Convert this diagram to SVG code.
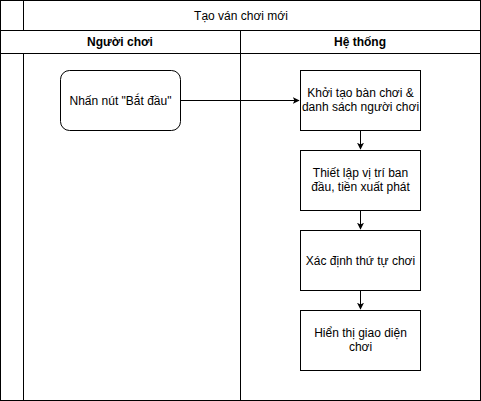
<svg xmlns="http://www.w3.org/2000/svg" width="481" height="401" viewBox="0 0 481 401">
<style>
.ln{fill:none;stroke:#000;stroke-width:1}
.nd{fill:#fff;stroke:#000;stroke-width:1}
text{font-family:"Liberation Sans",Arial,sans-serif;font-size:12px;fill:#000;text-anchor:middle}
.b{font-weight:bold}
</style>
<defs>
<marker id="ah" viewBox="0 0 10 10" refX="9" refY="5" markerWidth="7" markerHeight="7" markerUnits="userSpaceOnUse" orient="auto">
<path d="M0,0 L10,5 L0,10 L2.5,5 Z" fill="#000"/>
</marker>
</defs>
<rect width="481" height="401" fill="#fff"/>
<g id="pool">
<rect class="ln" x="0.5" y="0.5" width="480" height="400"/>
<line class="ln" x1="0" y1="30.5" x2="481" y2="30.5"/>
<line class="ln" x1="0" y1="53.5" x2="481" y2="53.5"/>
<line class="ln" x1="23.5" y1="0" x2="23.5" y2="30.5"/>
<line class="ln" x1="23.5" y1="53.5" x2="23.5" y2="401"/>
<line class="ln" x1="240.5" y1="30.5" x2="240.5" y2="401"/>
<text x="241" y="19.5">Tạo ván chơi mới</text>
<text class="b" x="120" y="46">Người chơi</text>
<text class="b" x="360" y="46">Hệ thống</text>
</g>
<g id="connectors">
<line class="ln" x1="180" y1="100.5" x2="299" y2="100.5" marker-end="url(#ah)"/>
<line class="ln" x1="360.5" y1="130" x2="360.5" y2="149" marker-end="url(#ah)"/>
<line class="ln" x1="360.5" y1="210" x2="360.5" y2="229" marker-end="url(#ah)"/>
<line class="ln" x1="360.5" y1="290" x2="360.5" y2="309" marker-end="url(#ah)"/>
</g>
<g id="start">
<rect class="nd" x="60.5" y="70.5" width="120" height="60" rx="9" ry="9"/>
<text x="120.5" y="104.5">Nhấn nút "Bắt đầu"</text>
</g>
<g id="init">
<rect class="nd" x="300.5" y="70.5" width="120" height="60"/>
<text x="360.5" y="97">Khởi tạo bàn chơi &amp;</text>
<text x="360.5" y="111">danh sách người chơi</text>
</g>
<g id="setup">
<rect class="nd" x="300.5" y="150.5" width="120" height="60"/>
<text x="360.5" y="177">Thiết lập vị trí ban</text>
<text x="360.5" y="191">đầu, tiền xuất phát</text>
</g>
<g id="order">
<rect class="nd" x="300.5" y="230.5" width="120" height="60"/>
<text x="360.5" y="264.5">Xác định thứ tự chơi</text>
</g>
<g id="display">
<rect class="nd" x="300.5" y="310.5" width="120" height="60"/>
<text x="360.5" y="337">Hiển thị giao diện</text>
<text x="360.5" y="351">chơi</text>
</g>
</svg>
